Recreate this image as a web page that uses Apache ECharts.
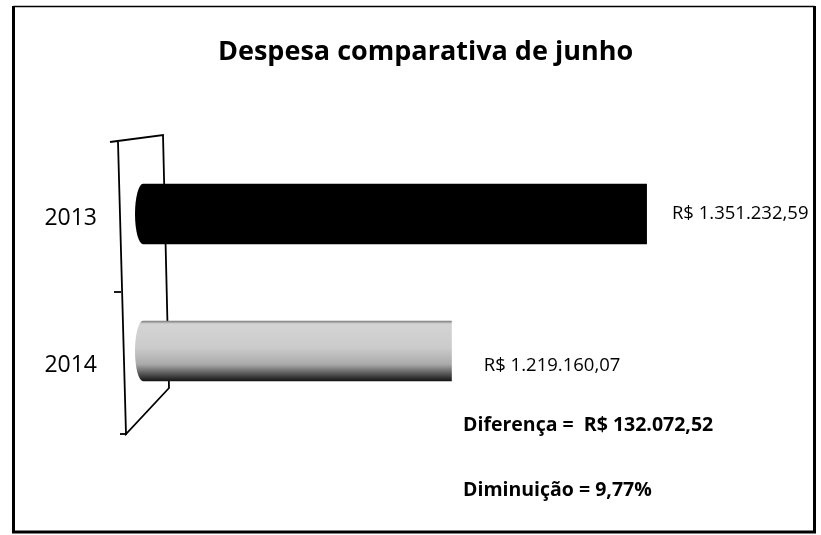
<!DOCTYPE html>
<html>
<head>
<meta charset="utf-8">
<script src="https://cdn.jsdelivr.net/npm/echarts@6/dist/echarts.min.js"></script>
<style>html,body{margin:0;padding:0;background:#fff}#c{width:821px;height:535px}</style>
</head>
<body>
<div id="c"></div>
<script>
// ---- data ----
const titleText = 'Despesa comparativa de junho';
const categories = ['2013', '2014'];
const values = [1351232.59, 1219160.07];
const axisMin = 1000000;
const axisMax = 1400000;

// ---- helpers ----
function formatBR(v) {
  const parts = v.toFixed(2).split('.');
  const intPart = parts[0].replace(/\B(?=(\d{3})+(?!\d))/g, '.');
  return intPart + ',' + parts[1];
}
const diff = values[0] - values[1];
const pct = (diff / values[0] * 100).toFixed(2).replace('.', ',');

// label offsets (style) relative to bar end
const labelOffsets = [[25, 0], [32, 15]];
const fills = [
  '#000000',
  new echarts.graphic.LinearGradient(0, 0, 0, 1, [
    { offset: 0, color: '#7a7a7a' },
    { offset: 0.05, color: '#d4d4d4' },
    { offset: 0.45, color: '#cbcbcb' },
    { offset: 0.72, color: '#aaaaaa' },
    { offset: 0.88, color: '#555555' },
    { offset: 1, color: '#141414' }
  ])
];

const chart = echarts.init(document.getElementById('c'), null, { renderer: 'canvas' });

const option = {
  backgroundColor: '#fff',
  animation: false,
  title: {
    text: titleText,
    left: 218,
    top: 39,
    padding: 0,
    textStyle: { fontFamily: 'Open Sans', fontWeight: 'bold', fontSize: 27, color: '#000' }
  },
  grid: [
    { left: 128, width: 591, top: 144.5, height: 294 },
    { left: 128, width: 591, top: 145.5, height: 274 }
  ],
  xAxis: [
    { gridIndex: 0, type: 'value', min: axisMin, max: axisMax, show: false },
    { gridIndex: 1, type: 'value', min: axisMin, max: axisMax, show: false }
  ],
  yAxis: [
    {
      gridIndex: 0, type: 'category', data: categories, inverse: true,
      axisLine: { show: false }, axisTick: { show: false }, splitLine: { show: false },
      axisLabel: { margin: 31, fontFamily: 'Open Sans', fontSize: 23, color: '#000' }
    },
    {
      gridIndex: 1, type: 'category', data: categories, inverse: true, show: false
    }
  ],
  graphic: [
    // outer frame
    { type: 'line', z: 1, shape: { x1: 13.5, y1: 6.5, x2: 814.5, y2: 6.5 }, style: { stroke: '#000', lineWidth: 1.5 } },
    { type: 'line', z: 1, shape: { x1: 13.5, y1: 6, x2: 13.5, y2: 533 }, style: { stroke: '#000', lineWidth: 3 } },
    { type: 'line', z: 1, shape: { x1: 814.5, y1: 6, x2: 814.5, y2: 533 }, style: { stroke: '#000', lineWidth: 3 } },
    { type: 'line', z: 1, shape: { x1: 12, y1: 532, x2: 816, y2: 532 }, style: { stroke: '#000', lineWidth: 3 } },
    // 3D wall of the category axis
    { type: 'polyline', z: 1, shape: { points: [[110, 142], [163, 135], [169, 388], [126, 434], [118, 142]] }, style: { stroke: '#000', lineWidth: 1.8, fill: null } },
    { type: 'line', z: 1, shape: { x1: 114, y1: 292, x2: 121, y2: 292 }, style: { stroke: '#000', lineWidth: 1.8 } },
    { type: 'line', z: 1, shape: { x1: 120, y1: 434, x2: 127, y2: 434 }, style: { stroke: '#000', lineWidth: 1.8 } },
    // annotations
    {
      type: 'text', z: 3, left: 463, top: 415,
      style: { text: 'Diferença =  R$ ' + formatBR(diff), font: 'bold 19.5px "Open Sans"', fill: '#000' }
    },
    {
      type: 'text', z: 3, left: 463, top: 480,
      style: { text: 'Diminuição = ' + pct + '%', font: 'bold 19.5px "Open Sans"', fill: '#000' }
    }
  ],
  series: [
    {
      type: 'custom',
      xAxisIndex: 1,
      yAxisIndex: 1,
      z: 5,
      data: values.map((v, i) => [v, i]),
      encode: { x: 0, y: 1 },
      renderItem: function (params, api) {
        const i = params.dataIndex;
        const v = api.value(0);
        const c = api.value(1);
        const s = api.coord([axisMin, c]);
        const e = api.coord([v, c]);
        const h = api.size([0, 1])[1] * 0.44;
        const cy = s[1];
        const rx = 8;
        const x0 = s[0] + 15;
        const top = cy - h / 2, bot = cy + h / 2;
        const d = 'M' + x0 + ',' + top + ' L' + e[0] + ',' + top + ' L' + e[0] + ',' + bot +
                  ' L' + x0 + ',' + bot + ' A' + rx + ',' + (h / 2) + ' 0 0 1 ' + x0 + ',' + top + ' Z';
        const off = labelOffsets[i];
        return {
          type: 'group',
          children: [
            { type: 'path', shape: { pathData: d }, style: { fill: fills[i] } },
            {
              type: 'text',
              x: e[0] + off[0], y: cy + off[1],
              style: {
                text: 'R$ ' + formatBR(v),
                font: '18.5px "Open Sans"', fill: '#000',
                textAlign: 'left', textVerticalAlign: 'middle'
              }
            }
          ]
        };
      }
    }
  ]
};
chart.setOption(option);
</script>
</body>
</html>
